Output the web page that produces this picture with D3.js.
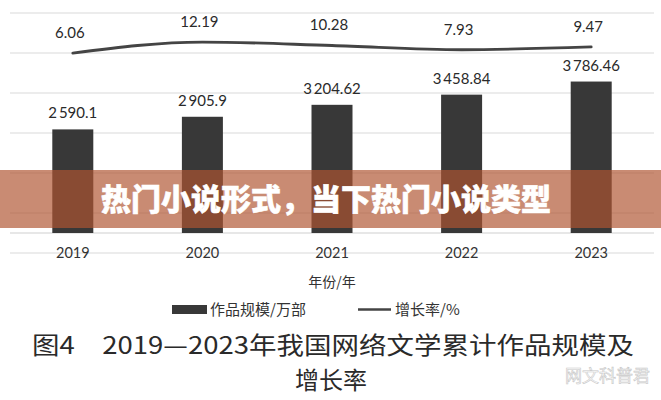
<!DOCTYPE html>
<html>
<head>
<meta charset="utf-8">
<script src="https://cdn.jsdelivr.net/npm/d3@7"></script>
<style>
  html, body { margin: 0; padding: 0; background: #fff; }
  svg { display: block; }
</style>
</head>
<body>
<svg id="chart" width="661" height="400"></svg>
<script>
// ---- data ----
const years = ["2019", "2020", "2021", "2022", "2023"];
const works = [2590.1, 2905.9, 3204.62, 3458.84, 3786.46];   // 作品规模/万部
const growth = [6.06, 12.19, 10.28, 7.93, 9.47];             // 增长率/%
const gridTicks = [-500, 500, 1500, 2500, 3500, 4500, 5500];
const legendLabels = ["作品规模/万部", "增长率/%"];
const xTitle = "年份/年";
const bannerText = "热门小说形式，当下热门小说类型";
const captionLines = ["图4　2019—2023年我国网络文学累计作品规模及", "增长率"];
const watermark = "网文科普君";

// ---- setup ----
const W = 661, H = 400;
const svg = d3.select("#chart");
const numFont = "Lato, 'Open Sans', sans-serif";
const cjkFont = "'Noto Sans CJK SC', 'Noto Sans', sans-serif";

const x = d3.scalePoint().domain(years).range([8, 656]).padding(0.5);
const yBar = d3.scaleLinear().domain([0, 5500]).range([233, 13]);
const yLine = d3.scaleLinear().domain([0, 20]).range([64, 28]);
const barW = 41;

const fmt = v => {
  const [i, d] = String(v).split(".");
  const ii = i.replace(/\B(?=(\d{3})+(?!\d))/g, "\u2009");
  return d ? ii + "." + d : ii;
};

// gridlines
svg.append("g").selectAll("line").data(gridTicks).join("line")
  .attr("x1", 10).attr("x2", 654)
  .attr("y1", d => yBar(d)).attr("y2", d => yBar(d))
  .attr("stroke", "#d9d9d9").attr("stroke-width", 1);

// baseline axis
svg.append("line")
  .attr("x1", 10).attr("x2", 654)
  .attr("y1", yBar(0)).attr("y2", yBar(0))
  .attr("stroke", "#cfcfcf").attr("stroke-width", 1);

// bars
svg.append("g").selectAll("rect").data(works).join("rect")
  .attr("x", (d, i) => x(years[i]) - barW / 2)
  .attr("y", d => yBar(d))
  .attr("width", barW)
  .attr("height", d => yBar(0) - yBar(d))
  .attr("fill", "#383838");

// bar labels
svg.append("g").selectAll("text").data(works).join("text")
  .attr("x", (d, i) => x(years[i]))
  .attr("y", d => yBar(d) - 11)
  .attr("text-anchor", "middle")
  .attr("font-family", numFont).attr("font-size", 15)
  .attr("fill", "#2a2a2a")
  .text(d => fmt(d));

// growth line
const line = d3.line()
  .x((d, i) => x(years[i]))
  .y(d => yLine(d))
  .curve(d3.curveMonotoneX);
svg.append("path").datum(growth)
  .attr("d", line)
  .attr("fill", "none")
  .attr("stroke", "#444")
  .attr("stroke-width", 2.8)
  .attr("stroke-linecap", "round");

// line labels
svg.append("g").selectAll("text").data(growth).join("text")
  .attr("x", (d, i) => x(years[i]) - 3)
  .attr("y", d => yLine(d) - 15)
  .attr("text-anchor", "middle")
  .attr("font-family", numFont).attr("font-size", 15)
  .attr("fill", "#2a2a2a")
  .text(d => d.toFixed(2));

// x axis labels
svg.append("g").selectAll("text").data(years).join("text")
  .attr("x", d => x(d))
  .attr("y", 258)
  .attr("text-anchor", "middle")
  .attr("font-family", numFont).attr("font-size", 14.5)
  .attr("fill", "#333")
  .text(d => d);

// x title
svg.append("text")
  .attr("x", 332).attr("y", 287)
  .attr("text-anchor", "middle")
  .attr("font-family", cjkFont).attr("font-size", 14)
  .attr("fill", "#333")
  .text(xTitle);

// legend
const lg = svg.append("g");
lg.append("rect").attr("x", 172).attr("y", 305).attr("width", 35).attr("height", 9).attr("fill", "#383838");
lg.append("text").attr("x", 210).attr("y", 315)
  .attr("font-family", cjkFont).attr("font-size", 15).attr("fill", "#333")
  .text(legendLabels[0]);
lg.append("line").attr("x1", 358).attr("x2", 391).attr("y1", 309.5).attr("y2", 309.5)
  .attr("stroke", "#444").attr("stroke-width", 2.5);
lg.append("text").attr("x", 395).attr("y", 315)
  .attr("font-family", cjkFont).attr("font-size", 15).attr("fill", "#333")
  .text(legendLabels[1]);

// banner overlay
svg.append("rect")
  .attr("x", 0).attr("y", 170).attr("width", W).attr("height", 58)
  .attr("fill", "rgb(176,84,48)").attr("opacity", 0.68);
svg.append("text")
  .attr("x", 326).attr("y", 210)
  .attr("text-anchor", "middle")
  .attr("font-family", cjkFont).attr("font-weight", 900).attr("font-size", 30)
  .attr("fill", "#fff").attr("stroke", "#fff").attr("stroke-width", 0.6)
  .text(bannerText);

// caption
svg.append("text")
  .attr("x", 32).attr("y", 354)
  .attr("font-family", cjkFont).attr("font-size", 24)
  .attr("fill", "#2a2a2a")
  .attr("textLength", 602).attr("lengthAdjust", "spacingAndGlyphs")
  .text(captionLines[0]);
svg.append("text")
  .attr("x", 331).attr("y", 389)
  .attr("text-anchor", "middle")
  .attr("font-family", cjkFont).attr("font-size", 24)
  .attr("fill", "#2a2a2a")
  .text(captionLines[1]);

// watermark
svg.append("text")
  .attr("x", 650).attr("y", 382)
  .attr("text-anchor", "end")
  .attr("font-family", cjkFont).attr("font-size", 17)
  .attr("fill", "#fafafa").attr("stroke", "#c8c8c8").attr("stroke-width", 0.6)
  .text(watermark);
</script>
</body>
</html>
